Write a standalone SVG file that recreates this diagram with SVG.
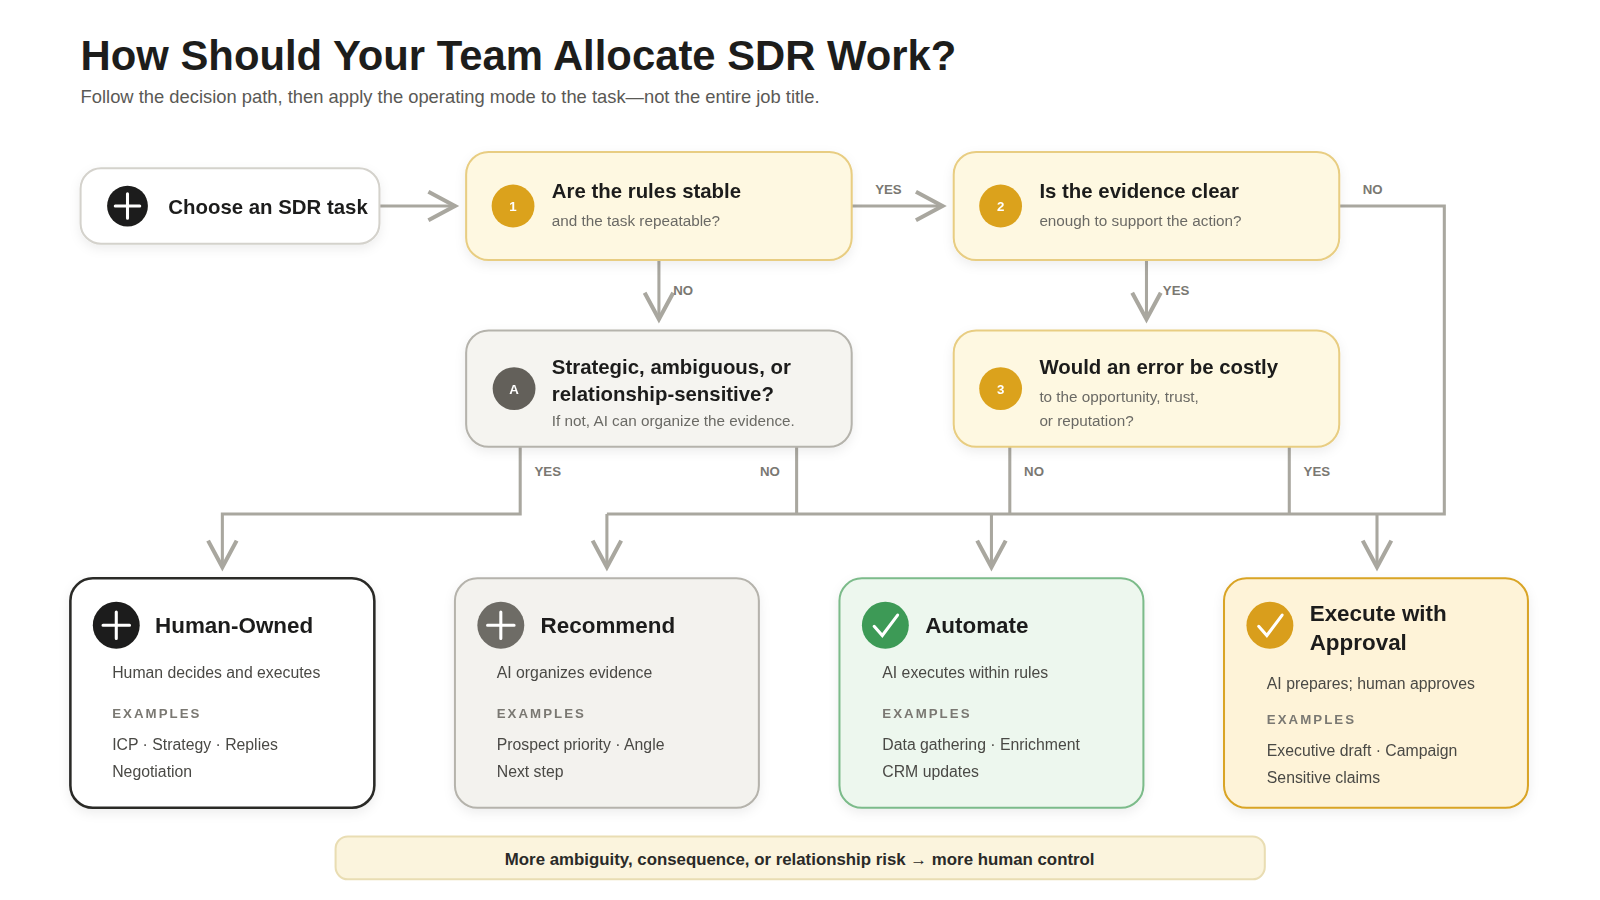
<svg xmlns="http://www.w3.org/2000/svg" width="1600" height="900" viewBox="0 0 1600 900">
<style>
text{font-family:"Liberation Sans",Arial,sans-serif}
.t{font-size:41px;font-weight:bold;fill:#1d1d1b}
.sub{font-size:18px;fill:#5a5955}
.h{font-size:20px;font-weight:bold;fill:#1d1d1b}
.s{font-size:15px;fill:#6b6a65}
.lbl{font-size:13px;font-weight:bold;fill:#7a7872}
.ct{font-size:22px;font-weight:bold;fill:#1d1d1b}
.cd{font-size:15.5px;fill:#4a4945}
.ex{font-size:13px;font-weight:bold;fill:#7a7872;letter-spacing:2px}
.ln{fill:none;stroke:#a9a79f;stroke-width:3}
.ah{fill:none;stroke:#a9a79f;stroke-width:4}
.wh{stroke:#fff;stroke-width:3;stroke-linecap:round;fill:none}
</style>
<defs><filter id="sh" x="-10%" y="-10%" width="120%" height="130%"><feDropShadow dx="0" dy="4" stdDeviation="5" flood-color="#000" flood-opacity="0.07"/></filter></defs>
<rect width="1600" height="900" fill="#fff"/>
<g transform="scale(1.02)">
<text class="t" x="79" y="69">How Should Your Team Allocate SDR Work?</text>
<text class="sub" x="79" y="101">Follow the decision path, then apply the operating mode to the task—not the entire job title.</text>
<g id="connectors">
<path class="ln" d="M372 202H446M835 202H924M1313 202H1416V504H595M646 255V313M1124 255V313M510 438V504H218V554M781 438V504M990 438V504M1264 438V504M595 504V554M972 504V554M1350 504V554"/>
<path class="ah" d="M420 188L446 202L420 216M898 188L924 202L898 216M632 287L646 313L660 287M1110 287L1124 313L1138 287M204 530L218 556L232 530M581 530L595 556L609 530M958 530L972 556L986 530M1336 530L1350 556L1364 530"/>
<text class="lbl" x="858" y="190">YES</text>
<text class="lbl" x="1336" y="190">NO</text>
<text class="lbl" x="660" y="289">NO</text>
<text class="lbl" x="1140" y="289">YES</text>
<text class="lbl" x="524" y="467">YES</text>
<text class="lbl" x="745" y="467">NO</text>
<text class="lbl" x="1004" y="467">NO</text>
<text class="lbl" x="1278" y="467">YES</text>
</g>
<g id="start" filter="url(#sh)">
<rect x="79" y="165" width="293" height="74" rx="20" fill="#fff" stroke="#d4d2cc" stroke-width="2"/>
<circle cx="125" cy="202" r="20" fill="#1d1d1b"/><path class="wh" d="M113 202H137M125 190V214"/>
<text class="h" x="165" y="210">Choose an SDR task</text>
</g>
<g id="q1" filter="url(#sh)">
<rect x="457" y="149" width="378" height="106" rx="22" fill="#fef8e1" stroke="#e8cd82" stroke-width="2"/>
<circle cx="503" cy="202" r="21" fill="#dba21c"/><text x="503" y="207" text-anchor="middle" font-size="13" font-weight="bold" fill="#fff">1</text>
<text class="h" x="541" y="194">Are the rules stable</text>
<text class="s" x="541" y="222">and the task repeatable?</text>
</g>
<g id="q2" filter="url(#sh)">
<rect x="935" y="149" width="378" height="106" rx="22" fill="#fef8e1" stroke="#e8cd82" stroke-width="2"/>
<circle cx="981" cy="202" r="21" fill="#dba21c"/><text x="981" y="207" text-anchor="middle" font-size="13" font-weight="bold" fill="#fff">2</text>
<text class="h" x="1019" y="194">Is the evidence clear</text>
<text class="s" x="1019" y="222">enough to support the action?</text>
</g>
<g id="qa" filter="url(#sh)">
<rect x="457" y="324" width="378" height="114" rx="22" fill="#f5f4f0" stroke="#b5b3ac" stroke-width="2"/>
<circle cx="504" cy="381" r="21" fill="#63605a"/><text x="504" y="386" text-anchor="middle" font-size="13" font-weight="bold" fill="#fff">A</text>
<text class="h" x="541" y="367">Strategic, ambiguous, or</text>
<text class="h" x="541" y="393">relationship-sensitive?</text>
<text class="s" x="541" y="418">If not, AI can organize the evidence.</text>
</g>
<g id="q3" filter="url(#sh)">
<rect x="935" y="324" width="378" height="114" rx="22" fill="#fef8e1" stroke="#e8cd82" stroke-width="2"/>
<circle cx="981" cy="381" r="21" fill="#dba21c"/><text x="981" y="386" text-anchor="middle" font-size="13" font-weight="bold" fill="#fff">3</text>
<text class="h" x="1019" y="367">Would an error be costly</text>
<text class="s" x="1019" y="394">to the opportunity, trust,</text>
<text class="s" x="1019" y="418">or reputation?</text>
</g>
<g id="human" filter="url(#sh)">
<rect x="69" y="567" width="298" height="225" rx="22" fill="#fff" stroke="#2a2a28" stroke-width="2.5"/>
<circle cx="114" cy="613" r="23" fill="#1d1d1b"/><path class="wh" d="M101 613H127M114 600V626"/>
<text class="ct" x="152" y="621">Human-Owned</text>
<text class="cd" x="110" y="665">Human decides and executes</text>
<text class="ex" x="110" y="704">EXAMPLES</text>
<text class="cd" x="110" y="735">ICP · Strategy · Replies</text>
<text class="cd" x="110" y="762">Negotiation</text>
</g>
<g id="recommend" filter="url(#sh)">
<rect x="446" y="567" width="298" height="225" rx="22" fill="#f3f2ee" stroke="#b5b3ac" stroke-width="2"/>
<circle cx="491" cy="613" r="23" fill="#6e6c66"/><path class="wh" d="M478 613H504M491 600V626"/>
<text class="ct" x="530" y="621">Recommend</text>
<text class="cd" x="487" y="665">AI organizes evidence</text>
<text class="ex" x="487" y="704">EXAMPLES</text>
<text class="cd" x="487" y="735">Prospect priority · Angle</text>
<text class="cd" x="487" y="762">Next step</text>
</g>
<g id="automate" filter="url(#sh)">
<rect x="823" y="567" width="298" height="225" rx="22" fill="#edf7ee" stroke="#7cbb8a" stroke-width="2"/>
<circle cx="868" cy="613" r="23" fill="#3c9a56"/><path class="wh" d="M857 614L865 623L880 603"/>
<text class="ct" x="907" y="621">Automate</text>
<text class="cd" x="865" y="665">AI executes within rules</text>
<text class="ex" x="865" y="704">EXAMPLES</text>
<text class="cd" x="865" y="735">Data gathering · Enrichment</text>
<text class="cd" x="865" y="762">CRM updates</text>
</g>
<g id="approval" filter="url(#sh)">
<rect x="1200" y="567" width="298" height="225" rx="22" fill="#fef3d8" stroke="#d9a425" stroke-width="2"/>
<circle cx="1245" cy="613" r="23" fill="#d99e1a"/><path class="wh" d="M1234 614L1242 623L1257 603"/>
<text class="ct" x="1284" y="609">Execute with</text>
<text class="ct" x="1284" y="637">Approval</text>
<text class="cd" x="1242" y="675">AI prepares; human approves</text>
<text class="ex" x="1242" y="710">EXAMPLES</text>
<text class="cd" x="1242" y="741">Executive draft · Campaign</text>
<text class="cd" x="1242" y="768">Sensitive claims</text>
</g>
<g id="banner">
<rect x="329" y="820" width="911" height="42" rx="12" fill="#fbf4dd" stroke="#e9ddb3" stroke-width="2"/>
<text x="784" y="848" text-anchor="middle" font-size="16.5" font-weight="bold" fill="#2a2a28">More ambiguity, consequence, or relationship risk → more human control</text>
</g>
</g>
</svg>
